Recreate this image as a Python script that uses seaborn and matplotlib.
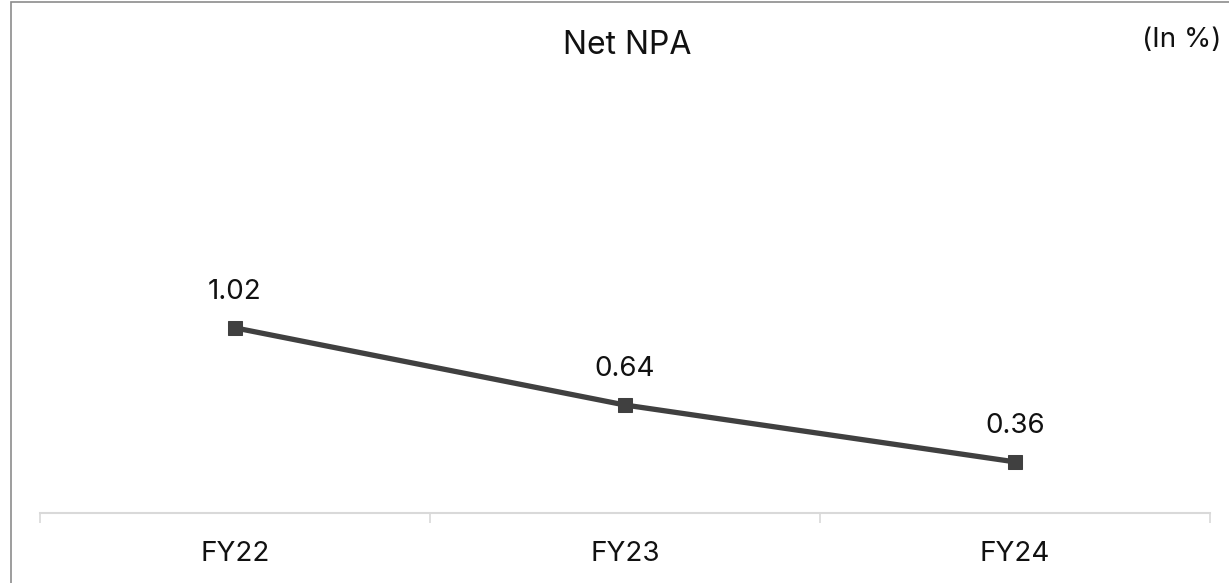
import numpy as np
import pandas as pd
import matplotlib.pyplot as plt
import seaborn as sns
from matplotlib.patches import Rectangle

years = ["FY22", "FY23", "FY24"]
net_npa = [1.02, 0.64, 0.36]

sns.set_theme(style="white")
plt.rcParams['font.family'] = ['Inter', 'DejaVu Sans']

df = pd.DataFrame({"year": years, "npa": net_npa})
df["pos"] = np.arange(len(years))

f = plt.figure(figsize=(12.29, 5.83), dpi=100)
ax = f.add_axes([0.0325, 0.12, 0.952, 0.76])

line_col = "#404040"
sns.lineplot(data=df, x="pos", y="npa", ax=ax, color=line_col, linewidth=3.8,
             marker="s", markersize=10.5, markeredgecolor=line_col, markerfacecolor=line_col)

# etiquetas de valor encima de cada punto
for x, v in zip(df["pos"], df["npa"]):
    ax.annotate(f"{v:.2f}", (x, v), xytext=(0, 26), textcoords="offset points",
                ha="center", va="center", fontsize=20, color="#111111")

ax.set_xlim(-0.5, len(years) - 0.5)
ax.set_ylim(0.108, 2.29)
ax.set_yticks([])
ax.set_xticks(df["pos"])
ax.set_xticklabels(years, fontsize=20, color="#111111")
ax.set_xticks(np.arange(-0.5, len(years)), minor=True)
ax.tick_params(axis="x", which="major", length=0, pad=20)
ax.tick_params(axis="x", which="minor", bottom=True, length=7, width=1.2,
               color="#d9d9d9", direction="out")
ax.set_xlabel("")
ax.set_ylabel("")
for s in ["top", "right", "left"]:
    ax.spines[s].set_visible(False)
ax.spines["bottom"].set_color("#d9d9d9")
ax.spines["bottom"].set_linewidth(1.5)

f.text(627 / 1229, 1 - 46 / 583, "Net NPA", ha="center", va="center", fontsize=23, color="#111111")
f.text(1182 / 1229, 1 - 40 / 583, "(In %)", ha="center", va="center", fontsize=20, color="#111111")

# borde gris del gráfico
f.patches.append(Rectangle((11 / 1229, -0.05), 1.0, 1.05 - 2.5 / 583, transform=f.transFigure,
                           fill=False, edgecolor="#8c8c8c", linewidth=1.2))

f.savefig("out.png", dpi=100)
